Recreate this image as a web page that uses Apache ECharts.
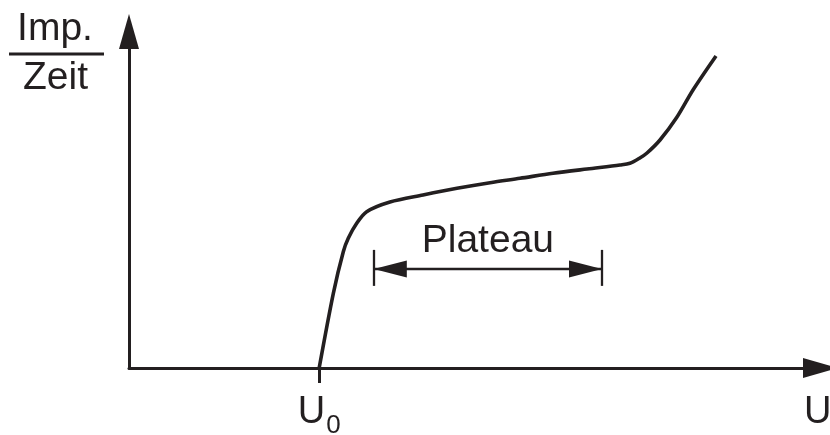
<!DOCTYPE html>
<html>
<head>
<meta charset="utf-8">
<script src="https://cdn.jsdelivr.net/npm/echarts@6/dist/echarts.min.js"></script>
<style>
  html, body { margin: 0; padding: 0; background: #fff; }
  #chart { width: 830px; height: 435px; }
</style>
</head>
<body>
<div id="chart"></div>
<script>
// Counting-tube characteristic: pulse rate versus tube voltage (arbitrary units 0..100)
const voltage = [27.5, 29.55, 30.99, 31.71, 32.93, 34.37, 37.74, 42.52, 47.43, 52.21, 56.54, 61.32, 66.23, 71.0, 72.44, 73.88, 74.91, 76.79, 79.25, 81.56, 84.89];
const rate    = [0, 22.2, 34.56, 38.54, 43.0, 46.45, 49.33, 51.41, 53.4, 55.07, 56.37, 57.86, 59.14, 60.33, 60.83, 62.41, 63.89, 67.76, 74.59, 82.62, 92.72];

// Threshold voltage U0 and the end-of-axis label position
const thresholdVoltage = 27.5;
const axisEndLabel = 99.6;

// Plateau range and the height of its dimension arrow
const plateauStart = 35.4;
const plateauEnd = 68.4;
const plateauLevel = 29.4;
const plateauBarLow = 24.4;
const plateauBarHigh = 35.1;

const ink = '#231f20';
const font = '"Liberation Sans", Arial, sans-serif';

const chart = echarts.init(document.getElementById('chart'), null, { renderer: 'canvas' });

const curve = voltage.map((v, i) => [v, rate[i]]);

chart.setOption({
  animation: false,
  backgroundColor: '#fff',
  grid: { left: 129, right: 9.5, top: 31.5, bottom: 67, containLabel: false, outerBoundsMode: 'none' },
  xAxis: {
    type: 'value', min: 0, max: 100,
    splitLine: { show: false },
    axisLine: {
      show: true, onZero: false,
      symbol: ['none', 'triangle'], symbolSize: [20, 35],
      lineStyle: { color: ink, width: 3 }
    },
    axisTick: {
      show: true, customValues: [thresholdVoltage], length: 15,
      lineStyle: { color: ink, width: 3 }
    },
    axisLabel: {
      show: true, customValues: [thresholdVoltage, axisEndLabel], margin: 25,
      formatter: v => (Math.abs(v - thresholdVoltage) < 1e-6 ? '{u|U}{s|0}' : '{u|U}'),
      rich: {
        u: { fontSize: 38, lineHeight: 39, fontFamily: font, color: ink },
        s: { fontSize: 26, lineHeight: 12, fontFamily: font, color: ink, padding: [26, 0, 0, 1] }
      }
    }
  },
  yAxis: {
    type: 'value', min: 0, max: 100,
    splitLine: { show: false },
    axisLine: {
      show: true, onZero: false,
      symbol: ['none', 'triangle'], symbolSize: [20, 35],
      lineStyle: { color: ink, width: 3 }
    },
    axisTick: { show: false },
    axisLabel: { show: false }
  },
  graphic: [
    { type: 'text', x: 55, y: 29.7, style: { text: 'Imp.', fontSize: 39, fontFamily: font, fill: ink, align: 'center', verticalAlign: 'middle' } },
    { type: 'line', shape: { x1: 9, y1: 54, x2: 104, y2: 54 }, style: { stroke: ink, lineWidth: 3 } },
    { type: 'text', x: 55.5, y: 78.7, style: { text: 'Zeit', fontSize: 39, fontFamily: font, fill: ink, align: 'center', verticalAlign: 'middle' } }
  ],
  series: [{
    type: 'line',
    data: curve,
    symbol: 'none',
    smooth: 0.3,
    clip: false,
    lineStyle: { color: ink, width: 3.6 },
    markLine: {
      silent: true,
      animation: false,
      symbol: ['triangle', 'triangle'],
      symbolSize: [17, 33],
      symbolOffset: [[0, 16.5], [0, 16.5]],
      lineStyle: { color: ink, width: 2.3, type: 'solid' },
      label: { show: false },
      emphasis: { disabled: true },
      data: [
        [
          { coord: [plateauStart, plateauLevel],
            label: { show: true, position: 'middle', formatter: 'Plateau', fontSize: 39, fontFamily: font, color: ink, distance: 8 } },
          { coord: [plateauEnd, plateauLevel] }
        ],
        [
          { coord: [plateauStart, plateauBarLow], symbol: 'none' },
          { coord: [plateauStart, plateauBarHigh], symbol: 'none' }
        ],
        [
          { coord: [plateauEnd, plateauBarLow], symbol: 'none' },
          { coord: [plateauEnd, plateauBarHigh], symbol: 'none' }
        ]
      ]
    }
  }]
});
</script>
</body>
</html>
